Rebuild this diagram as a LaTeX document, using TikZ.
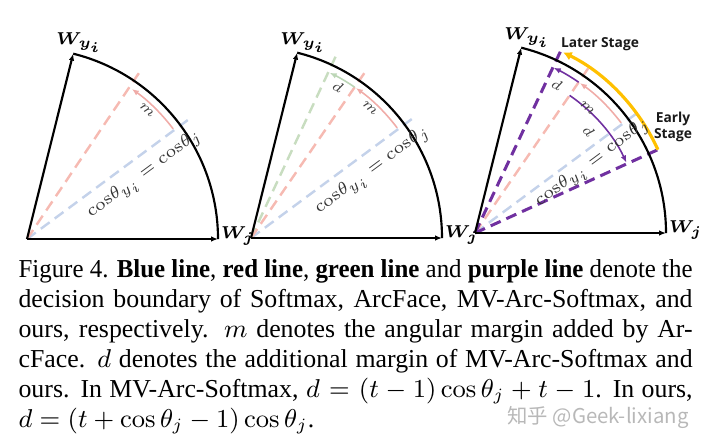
\documentclass[tikz,border=0pt]{standalone}
\usepackage[no-math]{fontspec}
\setmainfont{Liberation Serif}
\newfontfamily\stagefont{Open Sans}
\newfontfamily\markfont{Noto Sans CJK SC}
\usepackage{bm}
\usepackage{graphicx}
\usetikzlibrary{arrows.meta,positioning}

\definecolor{softblue}{RGB}{196,210,234}
\definecolor{softred}{RGB}{246,186,178}
\definecolor{softgreen}{RGB}{200,221,192}
\definecolor{marginred}{RGB}{240,172,168}
\definecolor{margingreen}{RGB}{188,214,182}
\definecolor{ourspurple}{RGB}{112,48,160}
\definecolor{stagegold}{RGB}{255,192,0}

\begin{document}
\begin{tikzpicture}[
        x=0.3485pt, y=0.3485pt,
        >=Latex,
        axis/.style={line width=0.75pt, -{Latex[length=2.4pt,width=1.9pt]}},
        rim/.style={line width=0.75pt},
        boundary/.style={line width=0.85pt, dash pattern=on 3.8pt off 2.2pt},
        softmax/.style={boundary, softblue},
        arcface/.style={boundary, softred},
        mvarc/.style={boundary, softgreen},
        ours/.style={boundary, ourspurple, line width=1.05pt},
        gap/.style={line width=0.55pt, -{Latex[length=2.4pt,width=2pt]}},
        stage/.style={line width=1.1pt, stagegold, -{Latex[length=3pt,width=3.2pt]}},
        wlbl/.style={inner sep=0.8pt, font=\fontsize{6.5}{7}\selectfont},
        mlbl/.style={inner sep=0pt, text=black!75, font=\fontsize{5.5}{6}\selectfont},
        eqlbl/.style={inner sep=0pt, text=black!80, font=\fontsize{5.6}{6.5}\selectfont},
        stagelbl/.style={inner sep=0pt, align=center, text=black!90, font=\stagefont\bfseries\fontsize{4.8}{5.6}\selectfont}
    ]
        \path[use as bounding box] (0,0) rectangle (708,447);

        % Softmax + ArcFace
        \begin{scope}[shift={(27,208)}]
            \coordinate (o1) at (0,0);
            \coordinate (wj1) at (0:191);
            \coordinate (wy1) at (76:191);
            \coordinate (b1) at (36.5:200);
            \coordinate (r1) at (56:200);
            \draw[softmax] (o1) -- (b1);
            \draw[arcface] (o1) -- (r1);
            \draw[gap, marginred] (37:183) arc[start angle=37, end angle=55, radius=183];
            \draw[rim] (wj1) arc[start angle=0, end angle=76, radius=191];
            \draw[axis] (o1) -- (wj1);
            \draw[axis] (o1) -- (wy1);
            \node[wlbl] (wy1lbl) at (52,196) {$\bm{W}_{\bm{y_i}}$};
            \node[wlbl, right=0pt of wj1, yshift=1pt] (wj1lbl) {$\bm{W}_{\bm{j}}$};
            \node[mlbl, rotate=-43] (m1) at (47:176) {$m$};
            \node[eqlbl, rotate=36.5] (eq1) at (28.5:134) {$\mathrm{cos}\theta_{y_i}=\mathrm{cos}\theta_j$};
        \end{scope}

        % MV-Arc-Softmax
        \begin{scope}[shift={(251,209)}]
            \coordinate (o2) at (0,0);
            \coordinate (wj2) at (0:191);
            \coordinate (wy2) at (76:191);
            \coordinate (b2) at (36.5:200);
            \coordinate (r2) at (55.5:200);
            \coordinate (g2) at (65:200);
            \draw[softmax] (o2) -- (b2);
            \draw[mvarc] (o2) -- (g2);
            \draw[arcface] (o2) -- (r2);
            \draw[gap, marginred] (37:183) arc[start angle=37, end angle=55, radius=183];
            \draw[gap, margingreen] (55.5:183) arc[start angle=55.5, end angle=64.5, radius=183];
            \draw[rim] (wj2) arc[start angle=0, end angle=76, radius=191];
            \draw[axis] (o2) -- (wj2);
            \draw[axis] (o2) -- (wy2);
            \node[wlbl] (wy2lbl) at (52,195) {$\bm{W}_{\bm{y_i}}$};
            \node[wlbl, right=0pt of wj2, yshift=1pt] (wj2lbl) {$\bm{W}_{\bm{j}}$};
            \node[mlbl, rotate=-30] (d2) at (60:174) {$d$};
            \node[mlbl, rotate=-42.5] (m2) at (47.5:176) {$m$};
            \node[eqlbl, rotate=36.5] (eq2) at (28.8:139) {$\mathrm{cos}\theta_{y_i}=\mathrm{cos}\theta_j$};
        \end{scope}

        % ours
        \begin{scope}[shift={(475,214)}]
            \coordinate (o3) at (0,0);
            \coordinate (wj3) at (0:191);
            \coordinate (wy3) at (76:191);
            \coordinate (b3) at (36.5:200);
            \coordinate (r3) at (55.5:200);
            \coordinate (lo3) at (24.5:201);
            \coordinate (hi3) at (64.8:201);
            \draw[softmax] (o3) -- (b3);
            \draw[arcface] (o3) -- (r3);
            \draw[ours] (o3) -- (lo3);
            \draw[ours] (o3) -- (hi3);
            \draw[gap, marginred] (37:183) arc[start angle=37, end angle=55, radius=183];
            \draw[gap, ourspurple] (55.5:183) arc[start angle=55.5, end angle=64.5, radius=183];
            \draw[gap, ourspurple] (55.5:167) arc[start angle=55.5, end angle=25, radius=167];
            \draw[stage] (lo3) arc[start angle=24.5, end angle=64, radius=201];
            \draw[rim] (wj3) arc[start angle=0, end angle=76, radius=191];
            \draw[axis] (o3) -- (wj3);
            \draw[axis] (o3) -- (wy3);
            \node[wlbl] (wy3lbl) at (52,195) {$\bm{W}_{\bm{y_i}}$};
            \node[wlbl, right=0pt of wj3, yshift=1pt] (wj3lbl) {$\bm{W}_{\bm{j}}$};
            \node[mlbl, rotate=-29] (d3) at (61:169) {$d$};
            \node[mlbl, rotate=-42] (m3) at (48:168) {$m$};
            \node[mlbl, rotate=-48] (d3b) at (42:153) {$d$};
            \node[eqlbl, rotate=36.5] (eq3) at (30.5:137) {$\mathrm{cos}\theta_{y_i}=\mathrm{cos}\theta_j$};
            \node[stagelbl] (later) at (125,189) {Later Stage};
            \node[stagelbl] (early) at (198,106) {Early\\Stage};
        \end{scope}

        \node[anchor=base west, inner sep=0pt] (caption) at (18,170) {\begin{minipage}[t]{234.9pt}\fontsize{9}{10.52}\selectfont
            \resizebox{\linewidth}{\height}{Figure 4. \textbf{Blue line}, \textbf{red line}, \textbf{green line} and \textbf{purple line} denote the}\newline
            decision boundary of Softmax, ArcFace, MV-Arc-Softmax, and\linebreak
            ours, respectively. $m$ denotes the angular margin added by Ar-\linebreak
            cFace. $d$ denotes the additional margin of MV-Arc-Softmax and\linebreak
            ours. In MV-Arc-Softmax, $d=(t-1)\cos\theta_j+t-1$. In ours,\linebreak
            $d=(t+\cos\theta_j-1)\cos\theta_j$.\end{minipage}};

        \node[inner sep=0pt, text=black!28, font=\markfont\fontsize{7.1}{8}\selectfont] (mark) at (598,30) {知乎 @Geek-lixiang};
    \end{tikzpicture}
\end{document}
